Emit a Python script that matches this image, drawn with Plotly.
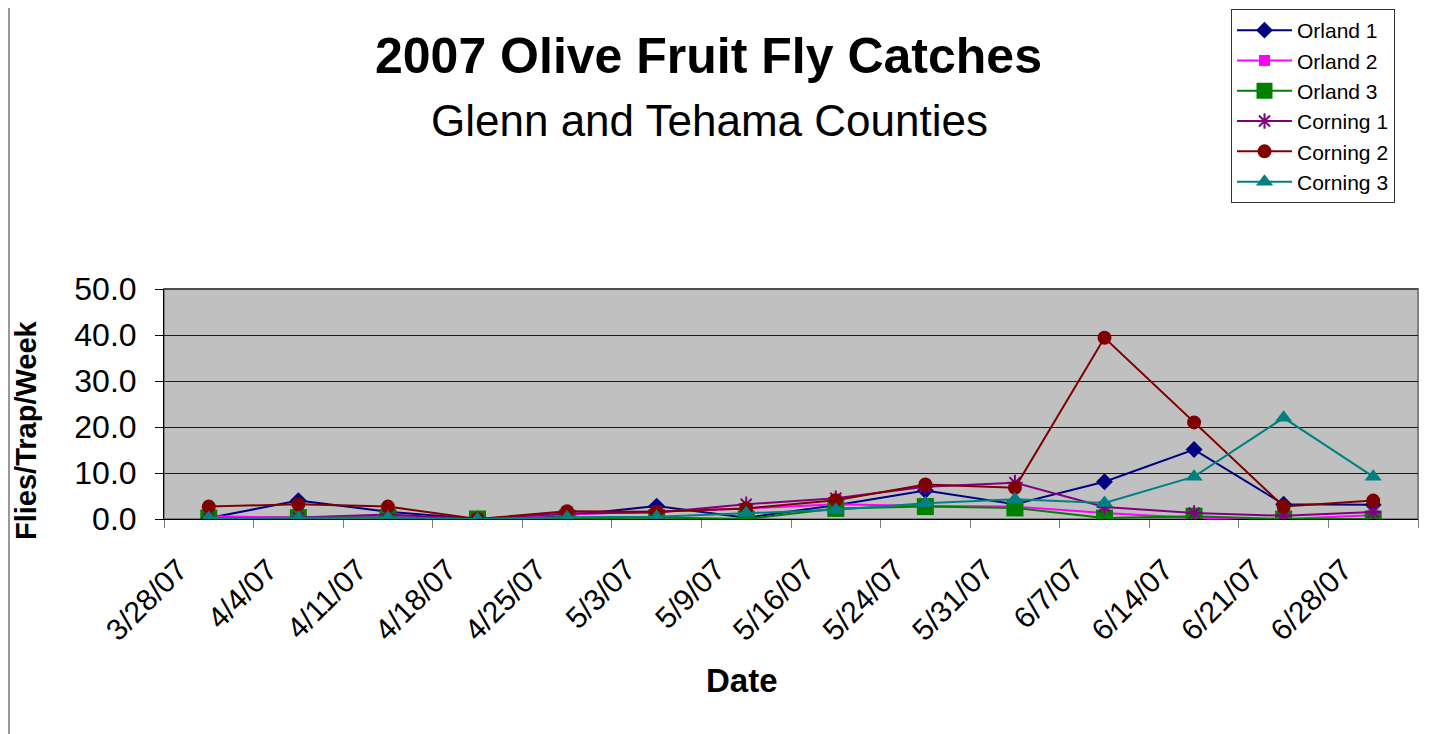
import plotly.graph_objects as go

dates = ["3/28/07", "4/4/07", "4/11/07", "4/18/07", "4/25/07", "5/3/07", "5/9/07",
         "5/16/07", "5/24/07", "5/31/07", "6/7/07", "6/14/07", "6/21/07", "6/28/07"]

orland1 = [0.2, 4.0, 1.6, 0.0, 0.8, 2.8, 0.3, 3.0, 6.2, 3.2, 8.1, 15.1, 3.2, 3.1]
orland2 = [0.6, 0.3, 0.5, 0.0, 1.0, 1.6, 2.3, 3.2, 2.8, 2.7, 1.3, 0.2, 0.0, 0.8]
orland3 = [0.2, 0.3, 0.3, 0.0, 0.2, 0.3, 0.0, 2.3, 2.7, 2.4, 0.2, 0.6, 0.0, 0.0]
corning1 = [0.1, 0.3, 1.0, 0.0, 1.2, 1.4, 3.2, 4.5, 7.0, 7.9, 2.6, 1.3, 0.7, 1.5]
corning2 = [2.7, 3.2, 2.7, 0.0, 1.7, 1.6, 2.3, 4.1, 7.5, 6.8, 39.4, 21.0, 2.7, 4.0]
corning3 = [0.2, 0.2, 0.3, 0.0, 0.4, 0.5, 1.3, 2.0, 3.4, 4.3, 3.5, 9.2, 22.0, 9.2]

y_ticks = [0, 10, 20, 30, 40, 50]
y_tick_text = ["0.0", "10.0", "20.0", "30.0", "40.0", "50.0"]

FONT = "Liberation Sans, Arial, sans-serif"

series = [
    ("Orland 1", orland1, "#000080", "diamond", 13),
    ("Orland 2", orland2, "#FF00FF", "square", 11),
    ("Orland 3", orland3, "#008000", "square", 17),
    ("Corning 1", corning1, "#800080", "asterisk-open", 13),
    ("Corning 2", corning2, "#800000", "circle", 14),
    ("Corning 3", corning3, "#008080", "triangle-up", 15),
]

fig = go.Figure()
for name, vals, color, sym, size in series:
    fig.add_trace(go.Scatter(
        x=dates, y=vals, name=name, mode="lines+markers",
        line=dict(color=color, width=2),
        marker=dict(symbol=sym, size=size, color=color,
                    line=dict(color=color, width=2 if sym == "asterisk-open" else 0)),
    ))

# page body has an 8px margin, so layout coordinates are offset by it
OFF = 8
FW, FH = 1432 - OFF, 734 - OFF
L, R, T, B = 164 - OFF, 1418 - OFF, 289 - OFF, 519 - OFF
W = R - L
H = B - T


def px(x):
    return (x - OFF - L) / W


def py(y):
    return (B - (y - OFF)) / H


fig.update_layout(
    width=FW, height=FH,
    margin=dict(l=L, r=FW - R, t=T, b=FH - B, autoexpand=False),
    paper_bgcolor="white",
    plot_bgcolor="#C0C0C0",
    font=dict(family=FONT, color="black"),
    showlegend=True,
    legend=dict(
        xref="container", yref="container",
        x=(1231 - OFF) / FW, y=1 - 1 / FH, xanchor="left", yanchor="top",
        bgcolor="white", bordercolor="#333333", borderwidth=1,
        font=dict(family=FONT, size=21, color="black"),
        itemwidth=55, tracegroupgap=0,
    ),
    xaxis=dict(
        type="category", range=[-0.5, len(dates) - 0.5],
        tickson="boundaries", ticks="outside", ticklen=8,
        tickcolor="#808080", tickwidth=1,
        tickangle=-45, tickfont=dict(family=FONT, size=30),
        ticklabelstandoff=20, ticklabelshift=-30,
        showgrid=False, showline=True, linecolor="black", linewidth=1,
        zeroline=False,
    ),
    yaxis=dict(
        range=[0, 50], tickvals=y_ticks, ticktext=y_tick_text,
        ticks="outside", ticklen=8, tickcolor="black",
        tickfont=dict(family=FONT, size=32),
        showgrid=True, gridcolor="#1a1a1a", gridwidth=1,
        showline=True, linecolor="black", linewidth=1,
        zeroline=False, ticklabelstandoff=12,
    ),
    shapes=[
        dict(type="rect", xref="paper", yref="paper", x0=0, x1=1, y0=0, y1=1,
             line=dict(color="#808080", width=2), fillcolor="rgba(0,0,0,0)", layer="below"),
        dict(type="line", xref="paper", yref="paper", x0=0, x1=1, y0=1, y1=1,
             line=dict(color="#1a1a1a", width=1)),
        dict(type="line", xref="paper", yref="paper",
             x0=px(OFF + 1), x1=px(OFF + 1), y0=py(OFF), y1=py(734 + OFF),
             line=dict(color="#333333", width=1)),
    ],
    annotations=[
        dict(text="<b>2007 Olive Fruit Fly Catches</b>", xref="paper", yref="paper",
             x=px(708), y=py(56), xanchor="center", yanchor="middle",
             showarrow=False, font=dict(family=FONT, size=50, color="black")),
        dict(text="Glenn and Tehama Counties", xref="paper", yref="paper",
             x=px(709), y=py(120), xanchor="center", yanchor="middle",
             showarrow=False, font=dict(family=FONT, size=44, color="black")),
        dict(text="<b>Flies/Trap/Week</b>", xref="paper", yref="paper",
             x=px(26), y=py(430), xanchor="center", yanchor="middle",
             textangle=-90, showarrow=False, font=dict(family=FONT, size=29, color="black")),
        dict(text="<b>Date</b>", xref="paper", yref="paper",
             x=px(742), y=py(680), xanchor="center", yanchor="middle",
             showarrow=False, font=dict(family=FONT, size=33, color="black")),
    ],
)

fig.write_html("out.html")
